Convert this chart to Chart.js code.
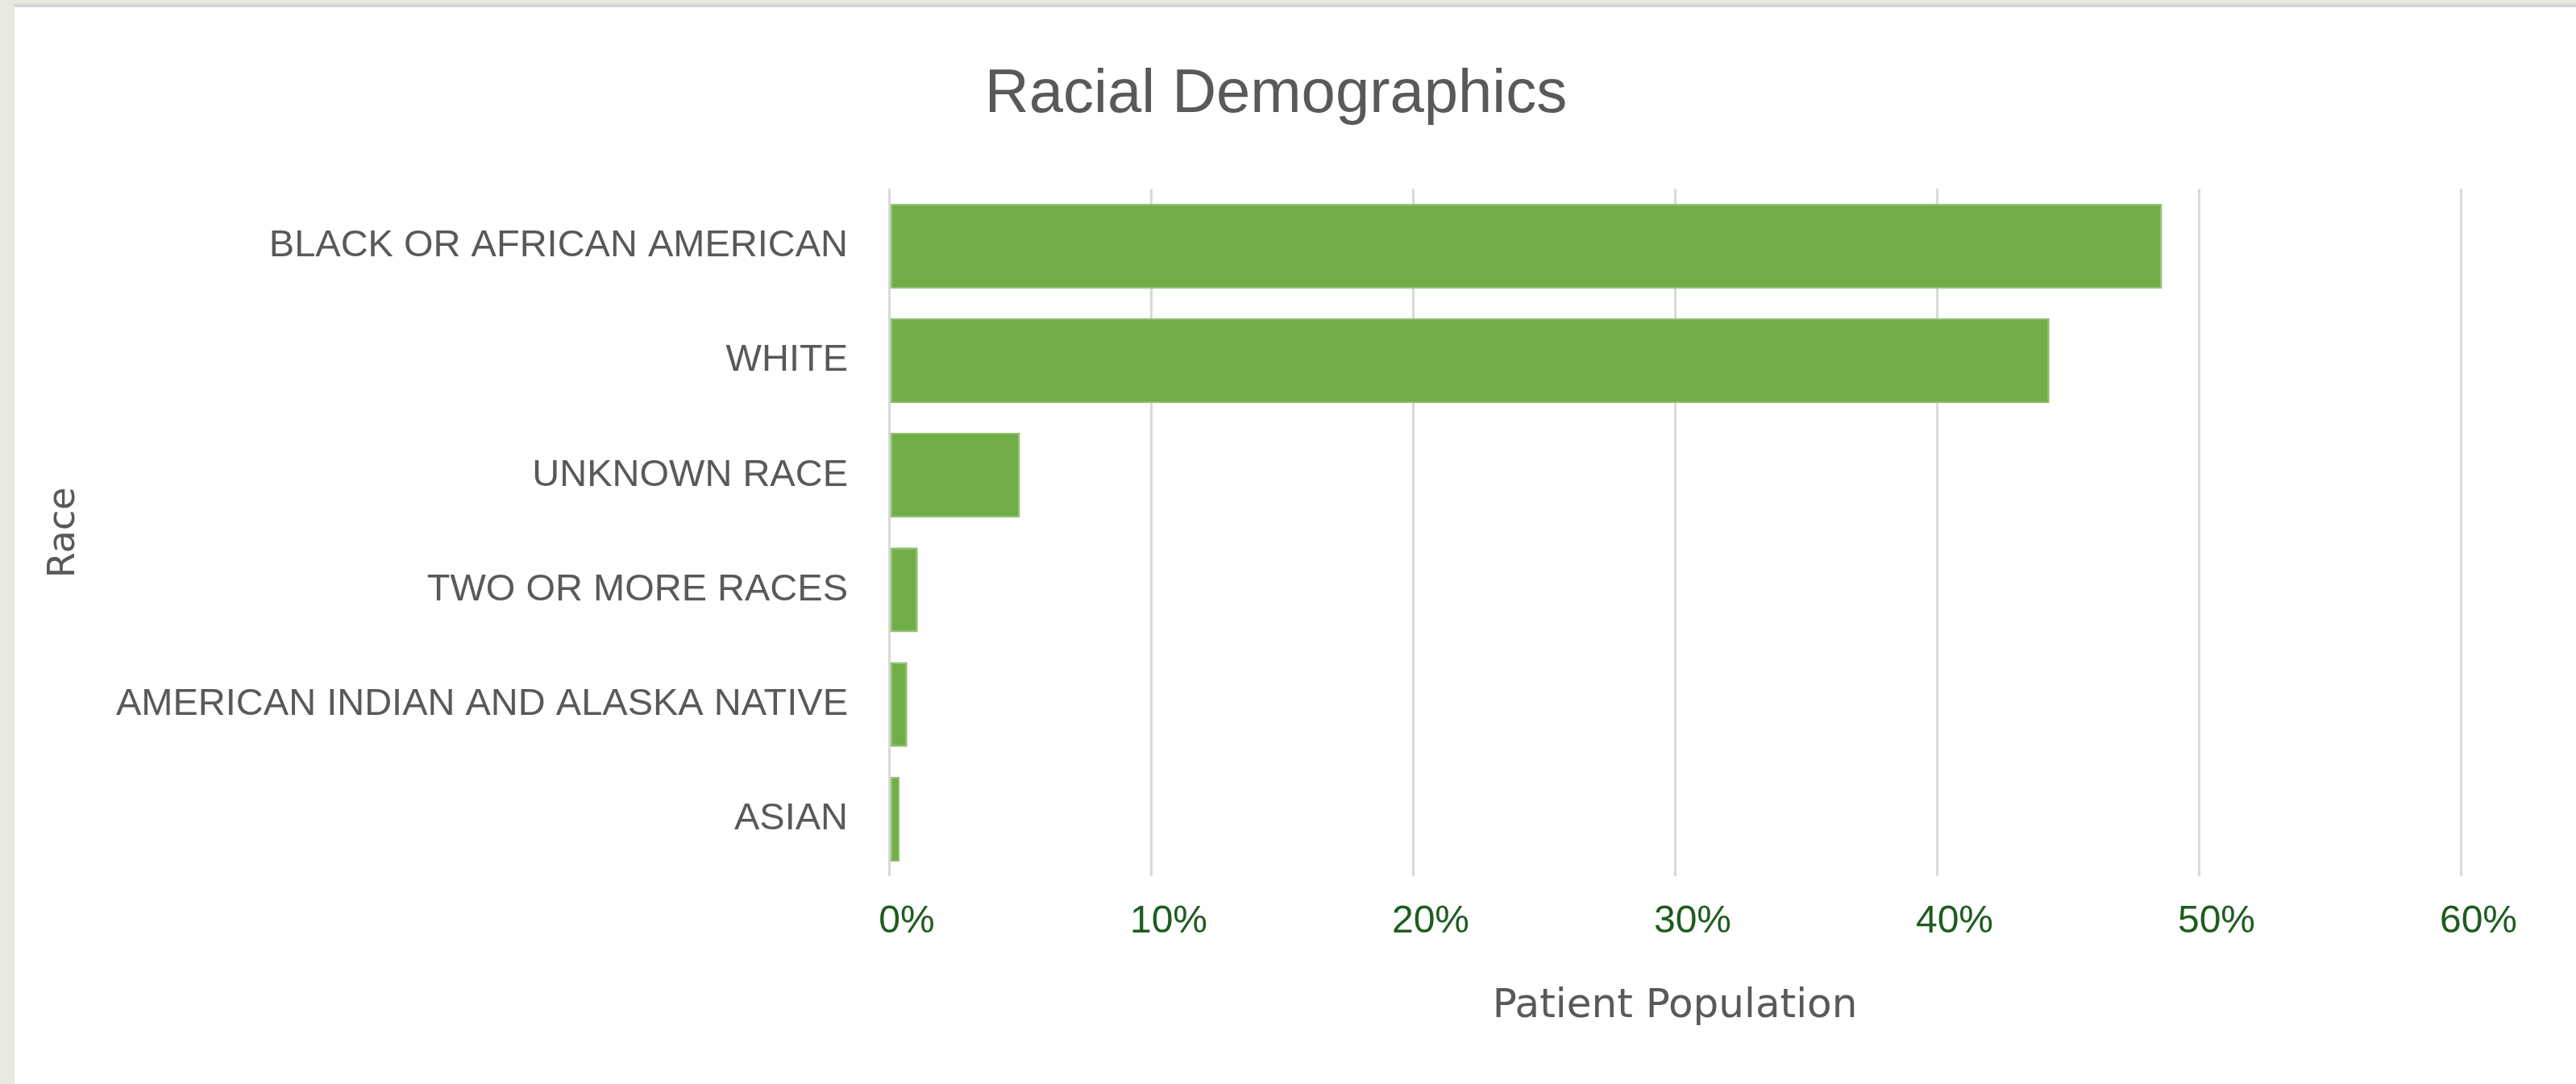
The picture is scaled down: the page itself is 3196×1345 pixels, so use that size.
<!DOCTYPE html>
<html>
<head>
<meta charset="utf-8">
<script src="https://cdn.jsdelivr.net/npm/chart.js@4"></script>
<style>
  html, body { margin: 0; padding: 0; background: #e8e9e1; }
  #frame {
    position: absolute; left: 18px; top: 5px;
    width: 3178px; height: 1340px;
    border-top: 4px solid #d5d5d5;
    background: #ffffff;
  }
  #chart { display: block; }
</style>
</head>
<body>
<div id="frame"><canvas id="chart" width="3178" height="1336"></canvas></div>
<script>
const races = [
    'BLACK OR AFRICAN AMERICAN',
    'WHITE',
    'UNKNOWN RACE',
    'TWO OR MORE RACES',
    'AMERICAN INDIAN AND ALASKA NATIVE',
    'ASIAN'
];
const shares = [48.6, 44.3, 5.0, 1.1, 0.7, 0.4];
const percentTicks = [0, 10, 20, 30, 40, 50, 60];

const ctx = document.getElementById('chart').getContext('2d');
new Chart(ctx, {
    type: 'bar',
    data: {
        labels: races,
        datasets: [{
            data: shares,
            backgroundColor: '#70ad47',
            borderColor: '#8fc06e',
            borderWidth: 2,
            borderSkipped: false,
            barPercentage: 0.74,
            categoryPercentage: 1
        }]
    },
    options: {
        indexAxis: 'y',
        responsive: false,
        animation: false,
        layout: {
            padding: { left: 95, right: 143, top: 0, bottom: 35 }
        },
        plugins: {
            legend: { display: false },
            tooltip: { enabled: false },
            title: {
                display: true,
                text: 'Racial Demographics',
                color: '#595959',
                font: { family: 'Liberation Sans', size: 76, weight: 'normal' },
                padding: { top: 63, bottom: 71 }
            }
        },
        scales: {
            x: {
                min: percentTicks[0],
                max: percentTicks[percentTicks.length - 1],
                afterBuildTicks: (scale) => {
                    scale.ticks = percentTicks.map(v => ({ value: v }));
                },
                grid: { color: '#d9d9d9', lineWidth: 3, drawTicks: false },
                border: { display: false },
                ticks: {
                    color: '#1f5c1f',
                    font: { family: 'Liberation Sans', size: 48 },
                    padding: 28,
                    labelOffset: 22,
                    maxRotation: 0,
                    callback: (v) => v + '%'
                },
                title: {
                    display: true,
                    text: 'Patient Population',
                    color: '#595959',
                    font: { family: 'DejaVu Sans', size: 50 },
                    padding: { top: 18, bottom: 31 }
                }
            },
            y: {
                grid: { display: false, drawTicks: false },
                border: { display: false },
                ticks: {
                    color: '#595959',
                    font: { family: 'Liberation Sans', size: 47 },
                    padding: 51
                },
                title: {
                    display: true,
                    text: 'Race',
                    color: '#595959',
                    font: { family: 'DejaVu Sans', size: 46 },
                    padding: { top: -61, bottom: 0 }
                },
                afterFit: (scale) => {
                    scale.width = 990;
                }
            }
        }
    }
});
</script>
</body>
</html>
